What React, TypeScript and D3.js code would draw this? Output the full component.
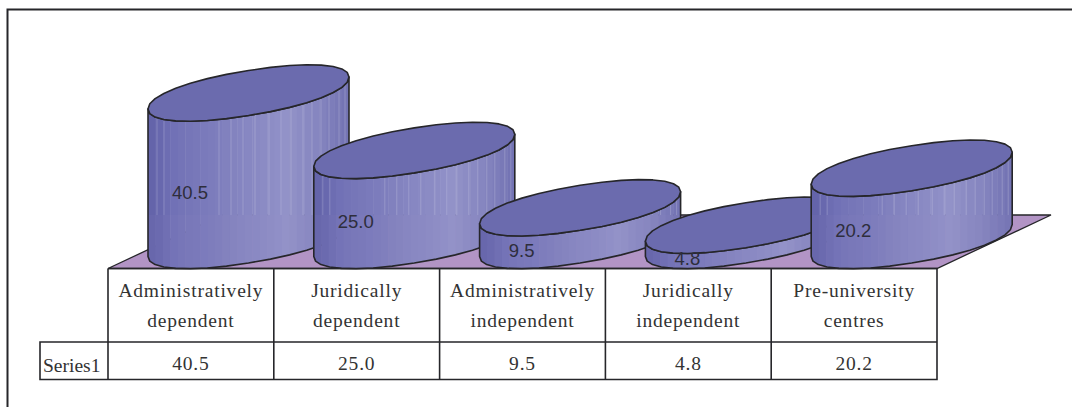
import React from "react";
import * as d3 from "d3";

const categories = [
  ["Administratively", "dependent"],
  ["Juridically", "dependent"],
  ["Administratively", "independent"],
  ["Juridically", "independent"],
  ["Pre-university", "centres"],
];
const values = [40.5, 25.0, 9.5, 4.8, 20.2];
const seriesName = "Series1";

const WIDTH = 1072;
const HEIGHT = 407;
const INK = "#26262a";
const CAP = "#6b6bae";
const FLOOR = "#b294c5";
const LABEL = "#2e2e3c";
const TABLE_FONT = "'Liberation Serif', serif";
const LABEL_FONT = "'Liberation Sans', sans-serif";

const tableLeft = 108;
const tableRight = 937;
const tableTop = 268.5;
const rowSplit = 342;
const tableBottom = 379.5;
const seriesLeft = 40;
const floorBackY = 215;
const floorDepthX = 114;

// Each cylinder is an oblique rounded ellipse: wide across x, with a skew that lifts its right side.
const halfWidth = 100.5;
const skew = 16;
const minor = 22.5;
const roundness = 0.93;
const baseCentre = 240.5;

const x = d3.scaleBand<number>().domain(d3.range(values.length)).range([tableLeft, tableRight]);
const capCentre = d3.scaleLinear().domain([0, 40.5]).range([243, 93]);
const shade = d3
  .scaleLinear<string>()
  .domain([0, 0.12, 0.7, 0.86, 1])
  .range(["#6464aa", "#7272b6", "#9292c8", "#8585bf", "#7474b4"]);
const facetIndex = d3.range(27);
const sheenOffsets = [9, 16, 71, 83, 95, 107, 121, 133, 143, 155, 164, 173, 181, 191, 197];

const line = d3.line<[number, number]>();

const signedPow = (v: number) => Math.sign(v) * Math.pow(Math.abs(v), roundness);

function ellipsePoint(cx: number, cy: number, t: number): [number, number] {
  const c = signedPow(Math.cos(t));
  const s = signedPow(Math.sin(t));
  return [cx + halfWidth * c, cy - skew * c + minor * s];
}
function ring(cx: number, cy: number): [number, number][] {
  return d3.range(32).map((i) => ellipsePoint(cx, cy, (i / 32) * 2 * Math.PI));
}
// Front half of the ellipse, running from the right extreme round to the left one.
function frontArc(cx: number, cy: number): [number, number][] {
  return d3.range(17).map((i) => ellipsePoint(cx, cy, (i / 16) * Math.PI));
}

function Cylinder({ index, value }: { index: number; value: number }) {
  const left = x(index)! + 40;
  const cx = left + halfWidth;
  const top = capCentre(value);
  const topArc = frontArc(cx, top);
  const baseArc = frontArc(cx, baseCentre);
  const side = line([...topArc, ...[...baseArc].reverse()]) + "Z";
  const clipId = `side-${index}`;
  const facetWidth = (2 * halfWidth) / facetIndex.length;
  const leftTopY = topArc[topArc.length - 1][1];
  const leftBaseY = baseArc[baseArc.length - 1][1];
  return (
    <g>
      <clipPath id={clipId}>
        <path d={side} />
      </clipPath>
      <g clipPath={`url(#${clipId})`}>
        {facetIndex.map((i) => (
          <rect
            key={i}
            x={left + i * facetWidth}
            y={top - 40}
            width={facetWidth + 0.5}
            height={baseCentre - top + 90}
            fill={shade(i / (facetIndex.length - 1))}
          />
        ))}
        <rect x={left} y={floorBackY} width={2 * halfWidth} height={60} fill={FLOOR} opacity={0.06} />
        {sheenOffsets.map((o) => (
          <line
            key={o}
            x1={left + o}
            x2={left + o}
            y1={top - 40}
            y2={floorBackY}
            stroke="#ffffff"
            strokeOpacity={0.24}
            strokeWidth={0.8}
          />
        ))}
      </g>
      <path d={side} fill="none" stroke={INK} strokeWidth={1.6} strokeLinejoin="round" />
      <path d={line(ring(cx, top)) + "Z"} fill={CAP} stroke={INK} strokeWidth={1.6} strokeLinejoin="round" />
      <text
        x={left + 42}
        y={(leftTopY + leftBaseY) / 2 + 10}
        textAnchor="middle"
        dominantBaseline="central"
        fontFamily={LABEL_FONT}
        fontSize={18.5}
        fill={LABEL}
      >
        {value.toFixed(1)}
      </text>
    </g>
  );
}

export default function App() {
  const floor = line([
    [tableLeft, tableTop],
    [tableRight, tableTop],
    [tableRight + floorDepthX, floorBackY],
    [tableLeft + floorDepthX, floorBackY],
  ]) + "Z";
  const tableText = {
    fontFamily: TABLE_FONT,
    fontSize: 19.5,
    fill: "#333",
    textAnchor: "middle" as const,
    letterSpacing: 0.8,
  };
  return (
    <svg
      width={WIDTH}
      height={HEIGHT}
      viewBox={`0 0 ${WIDTH} ${HEIGHT}`}
      style={{ position: "fixed", left: 0, top: 0, display: "block", background: "#fff" }}
    >
      <path d={`M7.5 ${HEIGHT}V9.5H${WIDTH}`} fill="none" stroke={INK} strokeWidth={2} />
      <path d={floor} fill={FLOOR} stroke={INK} strokeWidth={1.3} />
      {values.map((v, i) => (
        <Cylinder key={i} index={i} value={v} />
      ))}
      <g stroke={INK} strokeWidth={1.6} fill="none">
        <path d={`M${tableLeft} ${tableTop}H${tableRight}V${tableBottom}H${seriesLeft}V${rowSplit}H${tableRight}`} />
        {d3.range(values.length).map((i) => (
          <path key={i} d={`M${x(i)} ${tableTop}V${tableBottom}`} />
        ))}
      </g>
      {categories.map((lines, i) => (
        <g key={i}>
          {lines.map((t, j) => (
            <text key={j} x={x(i)! + x.bandwidth() / 2} y={296.5 + j * 30} {...tableText}>
              {t}
            </text>
          ))}
          <text x={x(i)! + x.bandwidth() / 2} y={370} {...tableText}>
            {values[i].toFixed(1)}
          </text>
        </g>
      ))}
      <text x={43} y={372} fontFamily={TABLE_FONT} fontSize={19.5} fill="#333">
        {seriesName}
      </text>
    </svg>
  );
}
